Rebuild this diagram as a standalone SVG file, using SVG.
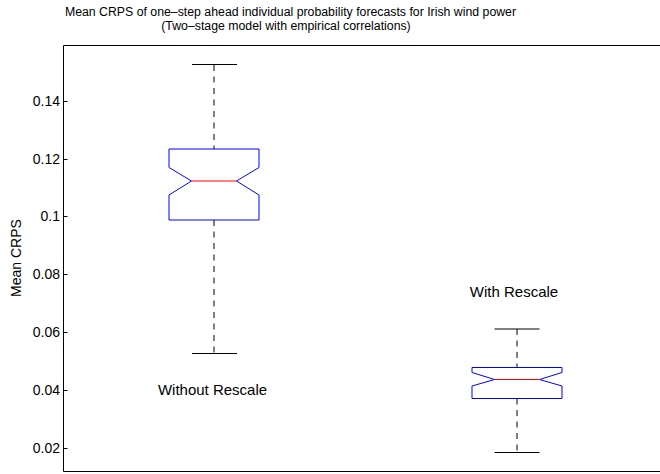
<svg xmlns="http://www.w3.org/2000/svg" width="660" height="474" viewBox="0 0 660 474">
<style>
text{font-family:"Liberation Sans",Arial,sans-serif;fill:#000}
.title{font-size:12.3px;text-anchor:middle}
.tick{font-size:14px;text-anchor:end}
.lab{font-size:15px;text-anchor:middle}
.axis{fill:none;stroke:#000;stroke-width:1}
.box{fill:none;stroke:#0000ff;stroke-width:1}
.med{fill:none;stroke:#ff0000;stroke-width:1}
.wh{fill:none;stroke:#000;stroke-width:1;stroke-dasharray:6,5.5}
.cap{fill:none;stroke:#000;stroke-width:1}
</style>
<rect width="660" height="474" fill="#fff"/>
<g id="title">
<text class="title" x="290.5" y="16">Mean CRPS of one–step ahead individual probability forecasts for Irish wind power</text>
<text class="title" x="286" y="29.5">(Two–stage model with empirical correlations)</text>
</g>
<g id="axes">
<path class="axis" d="M661,45.5 H63.5 V471.5 H661"/>
<path class="axis" d="M63.5,101.5 H67.5 M63.5,159.5 H67.5 M63.5,216.5 H67.5 M63.5,274.5 H67.5 M63.5,332.5 H67.5 M63.5,390.5 H67.5 M63.5,448.5 H67.5"/>
<text class="tick" x="60" y="106">0.14</text>
<text class="tick" x="60" y="164">0.12</text>
<text class="tick" x="60" y="221">0.1</text>
<text class="tick" x="60" y="279">0.08</text>
<text class="tick" x="60" y="337">0.06</text>
<text class="tick" x="60" y="395">0.04</text>
<text class="tick" x="60" y="453">0.02</text>
<text class="tick" style="text-anchor:middle" transform="translate(21,258) rotate(-90)">Mean CRPS</text>
</g>
<g id="connectors">
<path class="wh" d="M214,65 V149 M214,220 V353.5"/>
<path class="wh" d="M517,329 V367.5 M517,398.5 V452.5"/>
</g>
<g id="without-rescale">
<path class="cap" d="M192,64.5 H237 M192,353.5 H237"/>
<path class="box" d="M169,149 H259 V167.5 L236.5,181 L259,195 V220 H169 V195 L191.5,181 L169,167.5 Z"/>
<path class="med" d="M191.5,181 H236.5"/>
<text class="lab" x="212.5" y="395">Without Rescale</text>
</g>
<g id="with-rescale">
<path class="cap" d="M494.5,329 H539.5 M494.5,452.5 H539.5"/>
<path class="box" d="M472,367.5 H562 V372.5 L539.5,379.5 L562,386 V398.5 H472 V386 L494.5,379.5 L472,372.5 Z"/>
<path class="med" d="M494.5,379.5 H539.5"/>
<text class="lab" x="514" y="297">With Rescale</text>
</g>
</svg>
